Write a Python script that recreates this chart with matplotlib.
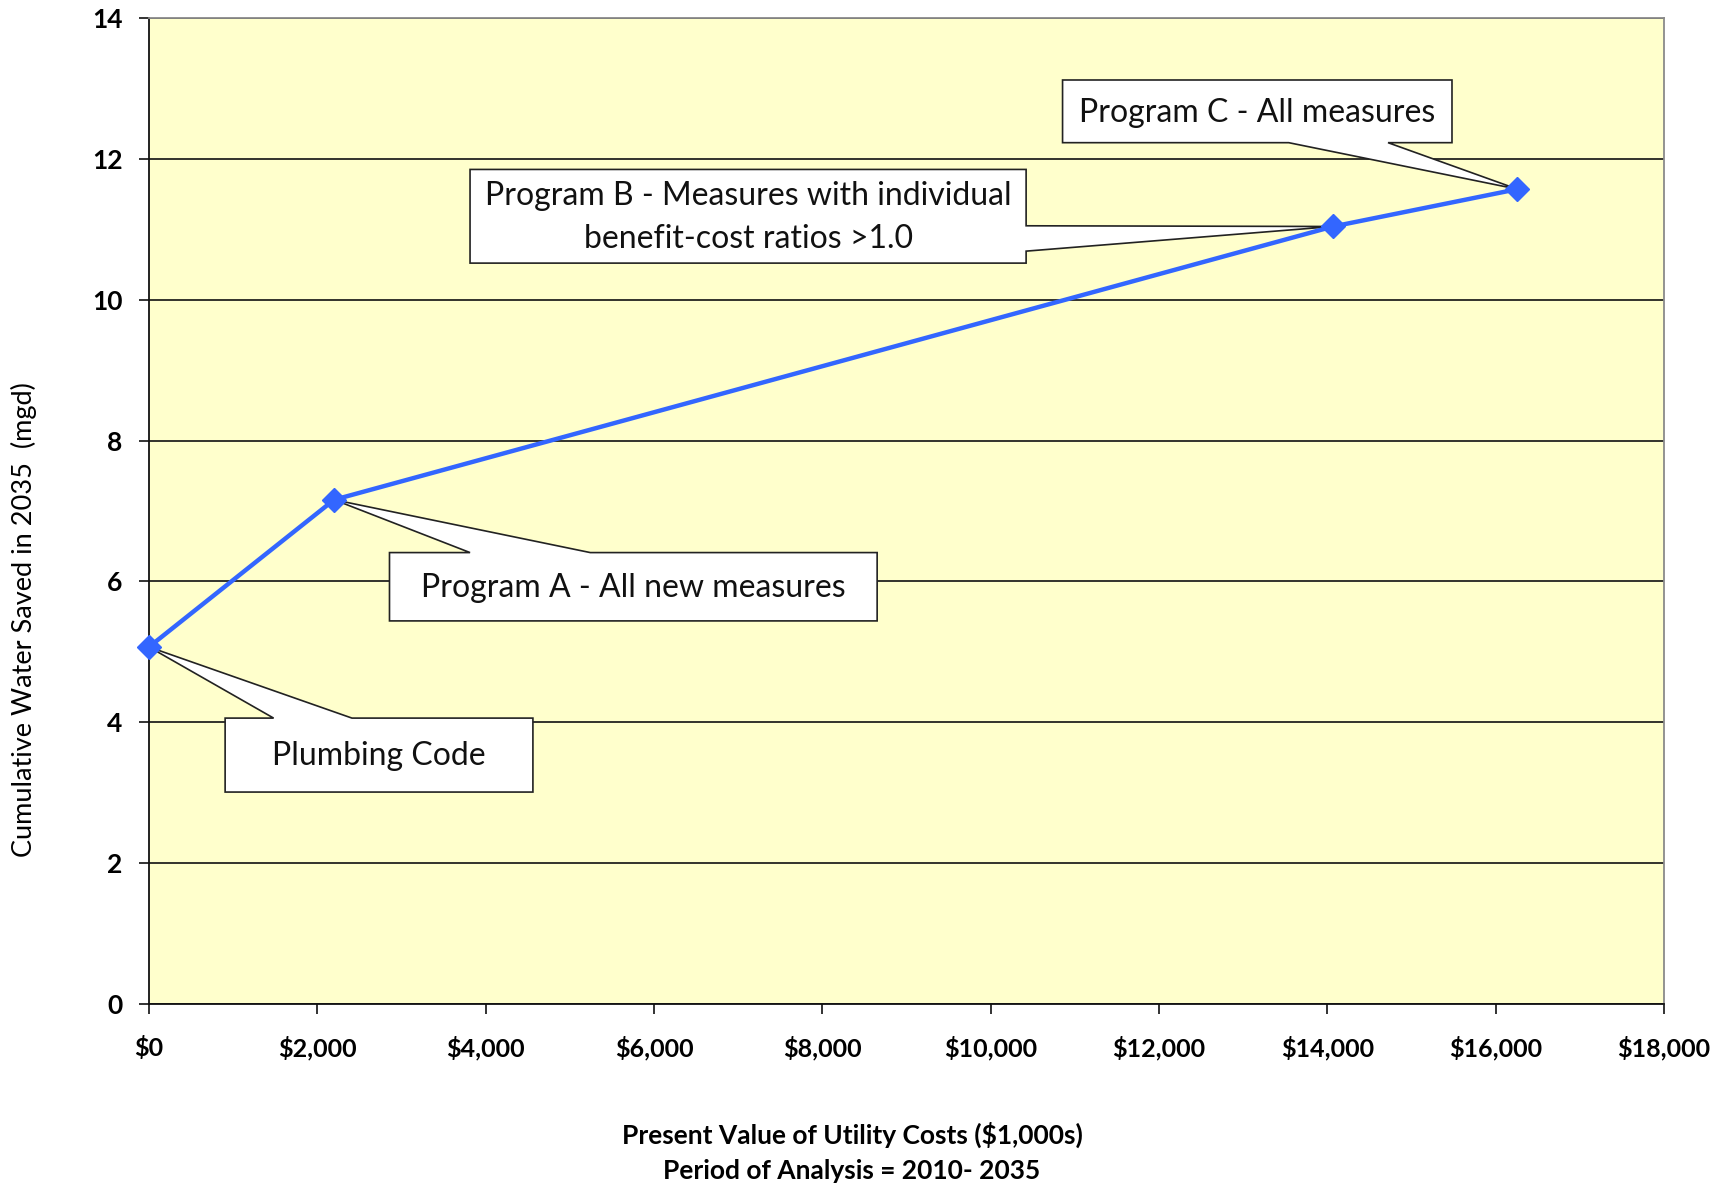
"""Cumulative water savings vs. utility cost for the conservation programs."""
import matplotlib

matplotlib.use("Agg")
import matplotlib.pyplot as plt
from matplotlib.patches import Polygon
from matplotlib.ticker import FuncFormatter, MultipleLocator

plt.rcParams["font.family"] = ["Lato", "DejaVu Sans"]

# program cost (present value, $1,000s) and water saved in 2035 (mgd)
programs = ["Plumbing Code", "Program A - All new measures",
            "Program B - Measures with individual\nbenefit-cost ratios >1.0",
            "Program C - All measures"]
cost = [0, 2200, 14070, 16260]
saved = [5.07, 7.16, 11.04, 11.57]

LINE = "#3366ff"
PLOT_BG = "#ffffcc"

# callout boxes: (x0, x1, y0, y1), side the pointer leaves from, pointer base
callouts = [
    ((905, 4562, 3.01, 4.06), "top", (1481, 2412)),
    ((2858, 8652, 5.44, 6.41), "top", (3815, 5244)),
    ((3815, 10422, 10.52, 11.85), "right", (10.69, 11.05)),
    ((10855, 15482, 12.23, 13.12), "bottom", (13542, 14722)),
]


def callout_shape(box, side, base, tip):
    x0, x1, y0, y1 = box
    a, b = base
    if side == "top":
        return [(x0, y0), (x0, y1), (a, y1), tip, (b, y1), (x1, y1), (x1, y0)]
    if side == "bottom":
        return [(x0, y0), (x0, y1), (x1, y1), (x1, y0), (b, y0), tip, (a, y0)]
    # right edge, base given as (low, high) in y
    return [(x0, y0), (x0, y1), (x1, y1), (x1, b), tip, (x1, a), (x1, y0)]


fig = plt.figure(figsize=(17.3, 11.85), dpi=100)
ax = fig.add_axes([0.0861, 0.1527, 0.8757, 0.8321])
ax.set_facecolor(PLOT_BG)

ax.plot(cost, saved, color=LINE, lw=3.2, marker="D", ms=12,
        markerfacecolor=LINE, markeredgecolor=LINE, zorder=5, clip_on=False)

for label, x, y, (box, side, base) in zip(programs, cost, saved, callouts):
    ax.add_patch(Polygon(callout_shape(box, side, base, (x, y)), closed=True,
                         facecolor="white", edgecolor="#222222", lw=1.2, zorder=4))
    ax.text((box[0] + box[1]) / 2, (box[2] + box[3]) / 2 - 0.02, label,
            ha="center", va="center", fontsize=23, linespacing=1.55,
            color="#111111", zorder=6)

ax.set_xlim(0, 18000)
ax.set_ylim(0, 14)
ax.xaxis.set_major_locator(MultipleLocator(2000))
ax.yaxis.set_major_locator(MultipleLocator(2))
ax.xaxis.set_major_formatter(FuncFormatter(lambda v, _: f"${v:,.0f}"))
ax.grid(axis="y", color="#111111", lw=1.2, zorder=1)
ax.set_axisbelow(True)

for s in ("left", "bottom"):
    ax.spines[s].set_color("#111111")
    ax.spines[s].set_linewidth(1.3)
for s in ("top", "right"):
    ax.spines[s].set_color("#8a8a8a")
    ax.spines[s].set_linewidth(1.3)

ax.tick_params(axis="both", direction="out", length=7, width=1.2, color="#111111")
ax.tick_params(axis="x", pad=16, labelsize=18)
ax.tick_params(axis="y", pad=12, labelsize=19)
for t in ax.get_xticklabels() + ax.get_yticklabels():
    t.set_fontweight("bold")

fig.text(0.4925, 1 - 1135 / 1185, "Present Value of Utility Costs ($1,000s)",
         ha="center", va="center", fontsize=19, fontweight="bold")
fig.text(0.4925, 1 - 1171 / 1185, "Period of Analysis = 2010- 2035",
         ha="center", va="center", fontsize=19, fontweight="bold")
fig.text(24 / 1730, 1 - 620 / 1185, "Cumulative Water Saved in 2035  (mgd)",
         ha="center", va="center", rotation=90, fontsize=19.5)

fig.savefig("out.png", dpi=100, facecolor="white")
